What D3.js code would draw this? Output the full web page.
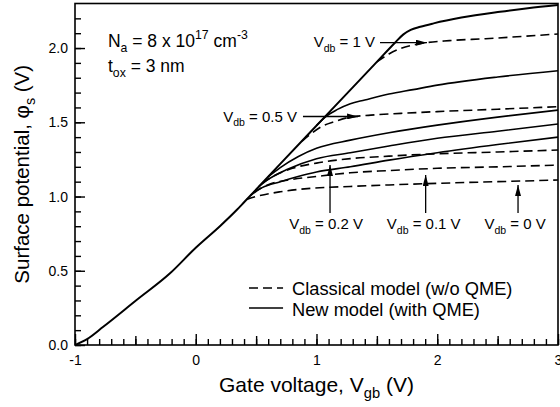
<!DOCTYPE html>
<html>
<head>
<meta charset="utf-8">
<script src="https://cdn.jsdelivr.net/npm/d3@7"></script>
<style>
  body { margin: 0; background: #fff; }
  text { font-family: "Liberation Sans", Arial, Helvetica, sans-serif; fill: #000; }
</style>
</head>
<body>
<script>
// surface potential vs gate voltage
// envelope (Vdb = 1 V, new model) - every other curve branches off it
const envV   = [-1, -0.9, -0.766, -0.49, -0.213, 0, 0.2, 0.339, 0.4, 0.7, 1.1, 1.5, 1.65, 1.72, 1.78, 1.86, 1.97, 2.2, 2.52, 2.75, 3.0];
const envPhi = [0, 0.04, 0.123, 0.303, 0.483, 0.655, 0.80, 0.909, 0.961, 1.22, 1.563, 1.907, 2.036, 2.092, 2.122, 2.143, 2.166, 2.205, 2.244, 2.268, 2.29];

// classical, Vdb = 1 V
const c1V   = [1.5, 1.6, 1.69, 1.8, 1.9, 2.1, 2.4, 2.7, 3.0];
const c1Phi = [1.907, 1.96, 1.995, 2.02, 2.035, 2.05, 2.063, 2.078, 2.095];
// new model, Vdb = 0.5 V
const n05V   = [1.0, 1.08, 1.17, 1.28, 1.4, 1.6, 1.8, 2.0, 2.5, 3.0];
const n05Phi = [1.478, 1.54, 1.585, 1.625, 1.65, 1.69, 1.72, 1.75, 1.805, 1.847];
// classical, Vdb = 0.5 V
const c05V   = [0.88, 0.95, 1.05, 1.15, 1.28, 1.45, 1.7, 2.0, 2.5, 3.0];
const c05Phi = [1.373, 1.42, 1.475, 1.505, 1.535, 1.548, 1.56, 1.572, 1.588, 1.605];
// new model, Vdb = 0.2 / 0.1 / 0 V
const n02V   = [0.6, 0.7, 0.85, 1.0, 1.28, 1.6, 2.0, 2.5, 3.0];
const n02Phi = [1.133, 1.195, 1.27, 1.325, 1.38, 1.43, 1.481, 1.535, 1.582];
const n01V   = [0.52, 0.6, 0.75, 1.0, 1.28, 1.6, 2.0, 2.5, 3.0];
const n01Phi = [1.065, 1.115, 1.18, 1.255, 1.295, 1.34, 1.392, 1.44, 1.488];
const n0V    = [0.45, 0.55, 0.7, 0.84, 1.0, 1.28, 1.6, 2.0, 2.5, 3.0];
const n0Phi  = [1.004, 1.06, 1.10, 1.133, 1.165, 1.20, 1.245, 1.295, 1.35, 1.40];
// classical, Vdb = 0.2 / 0.1 / 0 V
const c02V   = [0.55, 0.65, 0.8, 1.0, 1.28, 1.6, 2.0, 2.5, 3.0];
const c02Phi = [1.09, 1.14, 1.19, 1.225, 1.255, 1.272, 1.288, 1.30, 1.313];
const c01V   = [0.48, 0.6, 0.8, 1.0, 1.28, 1.6, 2.0, 2.5, 3.0];
const c01Phi = [1.03, 1.08, 1.115, 1.135, 1.16, 1.175, 1.19, 1.20, 1.212];
const c0V    = [0.42, 0.5, 0.7, 0.95, 1.28, 1.6, 2.0, 2.5, 3.0];
const c0Phi  = [0.98, 1.0, 1.032, 1.055, 1.068, 1.078, 1.089, 1.10, 1.111];

const xTicks = [-1, 0, 1, 2, 3];
const xHalfTicks = [-0.5, 0.5, 1.5, 2.5];
const yTicks = [0, 0.5, 1.0, 1.5, 2.0];

const W = 560, H = 407;
const m = { left: 75, right: 2, top: 3.5, bottom: 62 };

const svg = d3.select('body').append('svg')
    .attr('width', W)
    .attr('height', H);

const x = d3.scaleLinear().domain([-1, 3]).range([m.left, W - m.right]);
const y = d3.scaleLinear().domain([0, 2.3]).range([H - m.bottom, m.top]);

const defs = svg.append('defs');
defs.append('clipPath').attr('id', 'plot')
  .append('rect')
    .attr('x', x(-1)).attr('y', y(2.3))
    .attr('width', x(3) - x(-1)).attr('height', y(0) - y(2.3));

// arrow head
defs.append('marker')
    .attr('id', 'head')
    .attr('viewBox', '0 0 11 6')
    .attr('refX', 11).attr('refY', 3)
    .attr('markerWidth', 11).attr('markerHeight', 6)
    .attr('markerUnits', 'userSpaceOnUse')
    .attr('orient', 'auto')
  .append('path').attr('d', 'M0,0 L11,3 L0,6 Z').attr('fill', '#000');

// axes: ticks drawn inward (negative size)
const minorX = d3.range(-10, 31).map(d => d / 10);
const minorY = d3.range(0, 23).map(d => d / 10);

function styleAxis(g) {
  g.select('.domain').remove();
  g.selectAll('.tick line').attr('stroke', '#000').attr('stroke-width', 1.4);
  g.selectAll('.tick text')
    .attr('font-family', '"Liberation Sans", Arial, sans-serif')
    .attr('font-size', 14)
    .attr('fill', '#000');
}

const bottom = H - m.bottom;
svg.append('g').attr('transform', `translate(0,${bottom})`)
  .call(d3.axisBottom(x).tickValues(minorX).tickSize(-6).tickFormat(''))
  .call(styleAxis);
svg.append('g').attr('transform', `translate(0,${bottom})`)
  .call(d3.axisBottom(x).tickValues(xHalfTicks).tickSize(-9).tickFormat(''))
  .call(styleAxis);
svg.append('g').attr('transform', `translate(0,${bottom})`)
  .call(d3.axisBottom(x).tickValues(xTicks).tickSize(-11).tickPadding(10)
        .tickFormat(d => String(d)))
  .call(styleAxis);

svg.append('g').attr('transform', `translate(${m.left},0)`)
  .call(d3.axisLeft(y).tickValues(minorY).tickSize(-6).tickFormat(''))
  .call(styleAxis);
svg.append('g').attr('transform', `translate(${m.left},0)`)
  .call(d3.axisLeft(y).tickValues(yTicks).tickSize(-10).tickPadding(7)
        .tickFormat(d3.format('.1f')))
  .call(styleAxis);

// frame
svg.append('rect')
    .attr('x', x(-1)).attr('y', y(2.3))
    .attr('width', x(3) - x(-1)).attr('height', y(0) - y(2.3))
    .attr('fill', 'none').attr('stroke', '#000').attr('stroke-width', 1.6);

// curves
const line = d3.line()
    .x(d => x(d[0]))
    .y(d => y(d[1]))
    .curve(d3.curveMonotoneX);

const curves = [
  { v: c1V, p: c1Phi, dash: true },
  { v: c05V, p: c05Phi, dash: true },
  { v: c02V, p: c02Phi, dash: true },
  { v: c01V, p: c01Phi, dash: true },
  { v: c0V, p: c0Phi, dash: true },
  { v: n05V, p: n05Phi, dash: false },
  { v: n02V, p: n02Phi, dash: false },
  { v: n01V, p: n01Phi, dash: false },
  { v: n0V, p: n0Phi, dash: false },
  { v: envV, p: envPhi, dash: false, env: true }
];

svg.append('g').attr('clip-path', 'url(#plot)')
  .selectAll('path')
  .data(curves)
  .enter().append('path')
    .attr('d', c => line(c.v.map((v, i) => [v, c.p[i]])))
    .attr('fill', 'none')
    .attr('stroke', '#000')
    .attr('stroke-width', c => c.env ? 2 : 1.6)
    .attr('stroke-dasharray', c => c.dash ? '9,5' : null);

// text with sub/superscripts
function rich(g, parts, size) {
  let cur = 0;
  parts.forEach(([s, t]) => {
    const target = t === 'sub' ? size * 0.3 : t === 'sup' ? -size * 0.45 : 0;
    g.append('tspan')
      .attr('font-size', t ? size * 0.7 : size)
      .attr('dy', target - cur)
      .text(s);
    cur = target;
  });
  return g;
}

function label(vx, vy, parts, size, anchor) {
  const t = svg.append('text')
    .attr('x', x(vx)).attr('y', y(vy))
    .attr('text-anchor', anchor || 'start')
    .attr('font-size', size);
  return rich(t, parts, size);
}

label(-0.727, 2.007, [['N'], ['a', 'sub'], [' = 8 x 10'], ['17', 'sup'], [' cm'], ['-3', 'sup']], 17.5);
label(-0.727, 1.84, [['t'], ['ox', 'sub'], [' = 3 nm']], 17.5);

label(1.484, 2.007, [['V'], ['db', 'sub'], [' = 1 V']], 15, 'end');
label(0.839, 1.505, [['V'], ['db', 'sub'], [' = 0.5 V']], 15, 'end');
label(1.08, 0.781, [['V'], ['db', 'sub'], [' = 0.2 V']], 15, 'middle');
label(1.888, 0.781, [['V'], ['db', 'sub'], [' = 0.1 V']], 15, 'middle');
label(2.645, 0.781, [['V'], ['db', 'sub'], [' = 0 V']], 15, 'middle');

function arrow(x1, y1, x2, y2) {
  svg.append('line')
    .attr('x1', x(x1)).attr('y1', y(y1))
    .attr('x2', x(x2)).attr('y2', y(y2))
    .attr('stroke', '#000').attr('stroke-width', 1.3)
    .attr('marker-end', 'url(#head)');
}
arrow(1.526, 2.036, 1.915, 2.036);
arrow(0.888, 1.539, 1.344, 1.539);
arrow(1.112, 0.889, 1.112, 1.212);
arrow(1.904, 0.889, 1.904, 1.145);
arrow(2.669, 0.889, 2.669, 1.077);

// legend
svg.append('line')
    .attr('x1', x(0.441)).attr('x2', x(0.723))
    .attr('y1', y(0.384)).attr('y2', y(0.384))
    .attr('stroke', '#000').attr('stroke-width', 1.6).attr('stroke-dasharray', '9,5');
svg.append('line')
    .attr('x1', x(0.441)).attr('x2', x(0.723))
    .attr('y1', y(0.249)).attr('y2', y(0.249))
    .attr('stroke', '#000').attr('stroke-width', 1.6);
label(0.797, 0.34, [['Classical model (w/o QME)']], 18.3);
label(0.797, 0.192, [['New model (with QME)']], 18.3);

// axis titles
const xt = svg.append('text')
    .attr('x', x(1)).attr('y', 392)
    .attr('text-anchor', 'middle')
    .attr('font-size', 21);
rich(xt, [['Gate voltage, V'], ['gb', 'sub'], [' (V)']], 21);

const yt = svg.append('text')
    .attr('transform', `translate(29,${(y(0) + y(2.3)) / 2}) rotate(-90)`)
    .attr('text-anchor', 'middle')
    .attr('font-size', 20.5);
rich(yt, [['Surface potential, φ'], ['s', 'sub'], [' (V)']], 20.5);
</script>
</body>
</html>
